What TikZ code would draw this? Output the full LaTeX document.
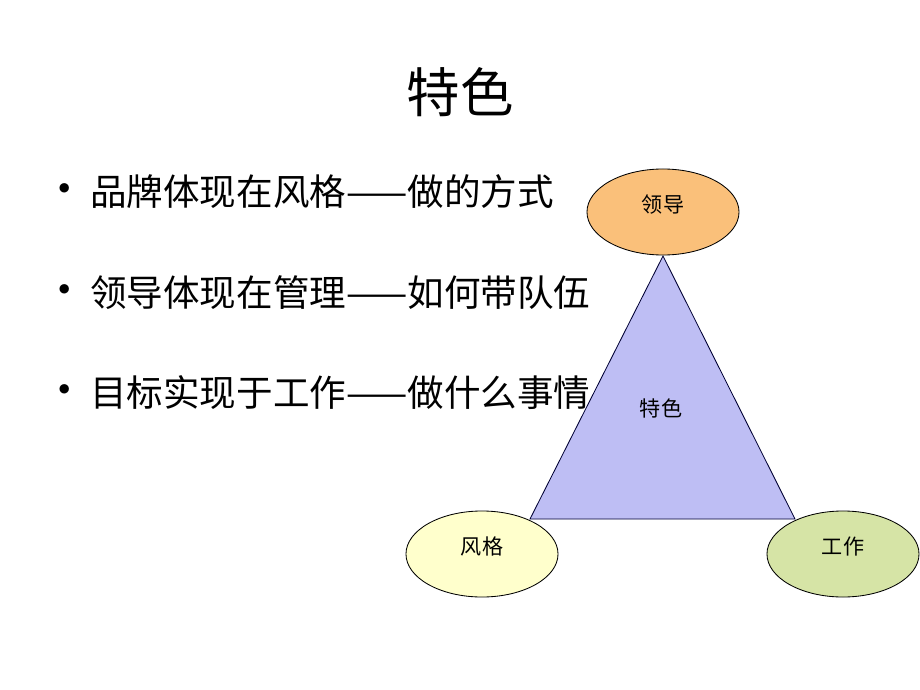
\documentclass[tikz,border=0pt]{standalone}
\usepackage{fontspec}
\newfontfamily\cjk{Noto Sans CJK SC}
\usetikzlibrary{shapes,calc}
\definecolor{leadorange}{RGB}{250,192,122}
\definecolor{styleyellow}{RGB}{255,255,204}
\definecolor{workgreen}{RGB}{214,228,166}
\definecolor{tritint}{RGB}{190,190,244}
\tikzstyle{oval}=[ellipse, draw=black, line width=.6pt, minimum width=3.8cm, minimum height=2.15cm, inner sep=0pt, font=\cjk\fontsize{15}{18}\selectfont]
\tikzstyle{point}=[font=\fontsize{30}{32}\selectfont, inner sep=0pt]
\tikzstyle{line}=[anchor=west, inner sep=0pt, font=\cjk\fontsize{26}{30}\selectfont]
\newcommand{\lifted}[1]{\raisebox{12pt}{#1}}
\begin{document}
\begin{tikzpicture}[x=0.025cm, y=-0.025cm]
	\useasboundingbox (0,0) rectangle (920,690);
%
	\node[font=\cjk\fontsize{38}{44}\selectfont] (title) at (460,92) {特色};
%
	\node[point] (b1) at (65,192) {\textbullet};
	\node[point] (b2) at (65,293) {\textbullet};
	\node[point] (b3) at (65,393) {\textbullet};
	\node[line] (t1) at (90,192) {品牌体现在风格——做的方式};
	\node[line] (t2) at (90,293) {领导体现在管理——如何带队伍};
	\node[line] (t3) at (90,393) {目标实现于工作——做什么事情};
%
	\coordinate (apex) at (663,256);
	\coordinate (left) at (530,519);
	\coordinate (right) at (795,519);
	\draw[fill=tritint, draw=black!80!blue, line width=.6pt] (apex) -- (left) -- (right) -- cycle;
	\node[font=\cjk\fontsize{15}{18}\selectfont] (core) at (661,408) {特色};
%
	\node[oval, fill=leadorange] (lead) at (663,212) {\lifted{领导}};
	\node[oval, fill=styleyellow] (style) at (482,554) {\lifted{风格}};
	\node[oval, fill=workgreen] (work) at (843,554) {\lifted{工作}};
\end{tikzpicture}
\end{document}
